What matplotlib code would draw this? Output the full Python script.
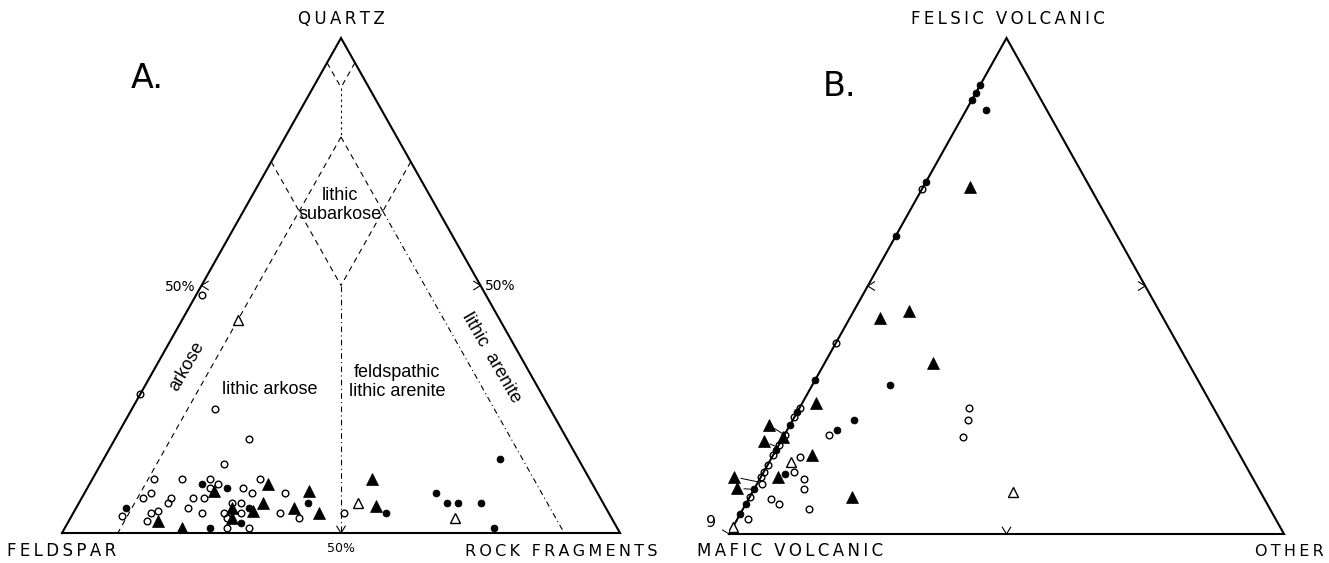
import numpy as np
import matplotlib.pyplot as plt
from matplotlib.transforms import offset_copy

plt.rcParams['font.family'] = ['DejaVu Sans']

# Panel A: % quartz (apex) and % rock fragments (right); feldspar is the rest
a_open_circ_q = [14, 11, 11, 11, 9, 10, 11, 9, 8, 8, 8, 7, 7, 6, 7, 7, 6, 6, 5, 4, 4, 4,
                 4.5, 4, 2.5, 3.5, 3, 4, 3, 1, 1, 4, 48, 25, 19, 28]
a_open_circ_r = [22, 11, 16, 21, 22, 23, 30, 28, 30, 36, 12, 11, 16, 16, 20, 22, 27.5, 29,
                 20, 23, 27, 30, 15, 14, 14, 9, 28, 37, 41, 29, 33, 48.5, 1, 15, 24, 0]
a_fill_circ_q = [5, 10, 9, 5, 6, 1, 2, 4, 8, 6, 6, 6, 15, 1]
a_fill_circ_r = [9, 20, 25, 31, 41, 26, 31, 56, 63, 66, 68, 72, 71, 77]
a_fill_tri_q = [8.5, 10, 8.5, 6, 4.5, 5, 5, 2.5, 1, 3, 4, 11, 5.5]
a_fill_tri_r = [23, 32, 40, 33, 32, 39, 28, 16, 21, 29, 44, 50, 53.5]
a_open_tri_q = [43, 6, 3]
a_open_tri_r = [10, 50, 69]

# Panel B: % felsic volcanic (apex) and % other (right); mafic volcanic is the rest
b_fill_circ_f = [31, 24.5, 22, 23, 21, 30, 17, 12, 9, 6, 4, 90.5, 89, 87.5, 85.5, 71, 60]
b_fill_circ_o = [0, 0, 0, 11, 9, 14, 0, 4, 0, 0, 0, 0, 0, 0, 3.5, 0, 0]
b_open_circ_f = [69.5, 25.5, 23.5, 20, 20, 18, 16, 15.5, 14, 12.5, 12.5, 11.5, 10, 11, 9,
                 7.5, 7, 6, 5, 3, 0, 25.5, 23, 19.5, 38.5]
b_open_circ_o = [0, 0, 0, 8, 0, 0, 0, 5, 0, 5.5, 0, 0, 1, 8, 9,
                 0, 4, 6, 12, 2, 0, 30.5, 31.5, 32.5, 0]
b_fill_tri_f = [26.5, 19.5, 16, 11.5, 7.5, 45, 43.5, 34.5, 70]
b_fill_tri_o = [2.5, 0, 7, 3, 18.5, 10, 5.5, 19.5, 8.5]
# triangles on the mafic-felsic edge, drawn off the edge with a leader
b_edge_tri_f = [20, 17.5, 10.5, 9]
b_open_tri_f = [14.5, 1.5, 8.5]
b_open_tri_o = [4, 0, 47]

W, H = 1329, 563
fig = plt.figure(figsize=(W / 100, H / 100), dpi=100)


def tri_axes(left, right, top, base):
    ax = fig.add_axes([left / W, 1 - base / H, (right - left) / W, (base - top) / H])
    ax.set_xlim(0, 1)
    ax.set_ylim(0, 1)
    ax.axis('off')
    return ax


def tern(top, right):
    t = np.asarray(top, float) / 100
    r = np.asarray(right, float) / 100
    return r + t / 2, t


def seg(ax, p0, p1, **kw):
    x0, y0 = tern(*p0)
    x1, y1 = tern(*p1)
    ax.plot([x0, x1], [y0, y1], color='k', clip_on=False, **kw)


def chevron(ax, top, right, ang, size=8, spread=32):
    x0, y0 = tern(top, right)
    bb = ax.get_window_extent()
    for s in (-spread, spread):
        a = np.radians(ang + 180 + s)
        ax.plot([x0, x0 + size * np.cos(a) / bb.width],
                [y0, y0 + size * np.sin(a) / bb.height], 'k-', lw=0.8, clip_on=False)


def outline(ax):
    ax.plot([0, 0.5, 1, 0], [0, 1, 0, 0], 'k-', lw=1.5, clip_on=False,
            solid_joinstyle='miter')


def ftext(x, y, s, **kw):
    fig.text(x / W, 1 - y / H, s, ha='center', va='center', **kw)


def spaced(s):
    # lettering-guide look: a thin space between capitals
    return '\u2009'.join(s)


open_c = dict(marker='o', ls='none', ms=4.8, mfc='none', mec='k', mew=1.0)
fill_c = dict(marker='o', ls='none', ms=5, mfc='k', mec='k', mew=0.5)
fill_t = dict(marker='^', ls='none', ms=8, mfc='k', mec='k', mew=0.5)
open_t = dict(marker='^', ls='none', ms=7.5, mfc='white', mec='k', mew=1.0)

dash = dict(lw=0.8, ls=(0, (5, 4)))
dashdot = dict(lw=0.8, ls=(0, (5, 3, 1, 3)))
dotted = dict(lw=0.8, ls=(0, (2, 3)))

# ---------------- panel A ----------------
axA = tri_axes(62, 620, 38, 533)
outline(axA)
seg(axA, (95, 0), (90, 5), **dash)
seg(axA, (95, 5), (90, 5), **dash)
seg(axA, (90, 5), (80, 10), **dotted)
seg(axA, (80, 10), (0, 10), **dash)
seg(axA, (80, 10), (65, 25), **dash)
seg(axA, (65, 25), (0, 90), **dashdot)
seg(axA, (75, 0), (50, 25), **dash)
seg(axA, (75, 25), (50, 25), **dash)
seg(axA, (50, 25), (0, 50), **dashdot)
chevron(axA, 0, 50, 270)
chevron(axA, 50, 0, 180)
chevron(axA, 50, 50, 0)

axA.plot(*tern(a_open_circ_q, a_open_circ_r), **open_c)
axA.plot(*tern(a_fill_circ_q, a_fill_circ_r), **fill_c)
axA.plot(*tern(a_fill_tri_q, a_fill_tri_r), **fill_t)
axA.plot(*tern(a_open_tri_q, a_open_tri_r), **open_t)

caps = dict(fontsize=12)
ftext(341, 19, spaced('QUARTZ'), **caps)
ftext(62, 551, spaced('FELDSPAR'), **caps)
ftext(561, 551, spaced('ROCK FRAGMENTS'), fontsize=11.5)
ftext(341, 549, '50%', fontsize=9)
ftext(180, 287, '50%', fontsize=10)
ftext(500, 286, '50%', fontsize=10)
ftext(147, 79, 'A.', fontsize=24)
small = dict(family='Liberation Sans', fontsize=13)
ftext(187, 366, 'arkose', rotation=60, **small)
ftext(270, 390, 'lithic arkose', **small)
ftext(397, 382, 'feldspathic\nlithic arenite', linespacing=1.1, **small)
ftext(491, 358, 'lithic  arenite', rotation=-60, **small)
ftext(340, 205, 'lithic\nsubarkose', linespacing=1.1, **small)

# ---------------- panel B ----------------
axB = tri_axes(729, 1284, 38, 534)
outline(axB)
chevron(axB, 0, 50, 270)
chevron(axB, 50, 0, 180)
chevron(axB, 50, 50, 0)

axB.plot(*tern(b_open_circ_f, b_open_circ_o), **open_c)
axB.plot(*tern(b_fill_circ_f, b_fill_circ_o), **fill_c)
axB.plot(*tern(b_fill_tri_f, b_fill_tri_o), **fill_t)
axB.plot(*tern(b_open_tri_f, b_open_tri_o), **open_t)

edge_shift = [(-16, 10), (-14, 6), (-24, 5), (-17, 1)]
for f, (dx, dy) in zip(b_edge_tri_f, edge_shift):
    x, y = tern(f, 0)
    axB.annotate('', xy=(x, y), xytext=(dx * 0.72, dy * 0.72), textcoords='offset points',
                 arrowprops=dict(arrowstyle='-', lw=0.7, shrinkA=5, shrinkB=0))
    tr = offset_copy(axB.transData, fig=fig, x=dx, y=dy, units='dots')
    axB.plot([x], [y], transform=tr, clip_on=False, **fill_t)

axB.annotate('9', xy=tern(0, 0), xytext=(-13, 8), textcoords='offset points',
             ha='center', va='center', fontsize=11.5,
             arrowprops=dict(arrowstyle='-', lw=0.7, shrinkA=3, shrinkB=1))

ftext(1008, 19, spaced('FELSIC VOLCANIC'), **caps)
ftext(790, 551, spaced('MAFIC VOLCANIC'), **caps)
ftext(1289, 551, spaced('OTHER'), fontsize=11.5)
ftext(840, 86, 'B.', fontsize=24)

fig.savefig('out.png', dpi=100, facecolor='white')
